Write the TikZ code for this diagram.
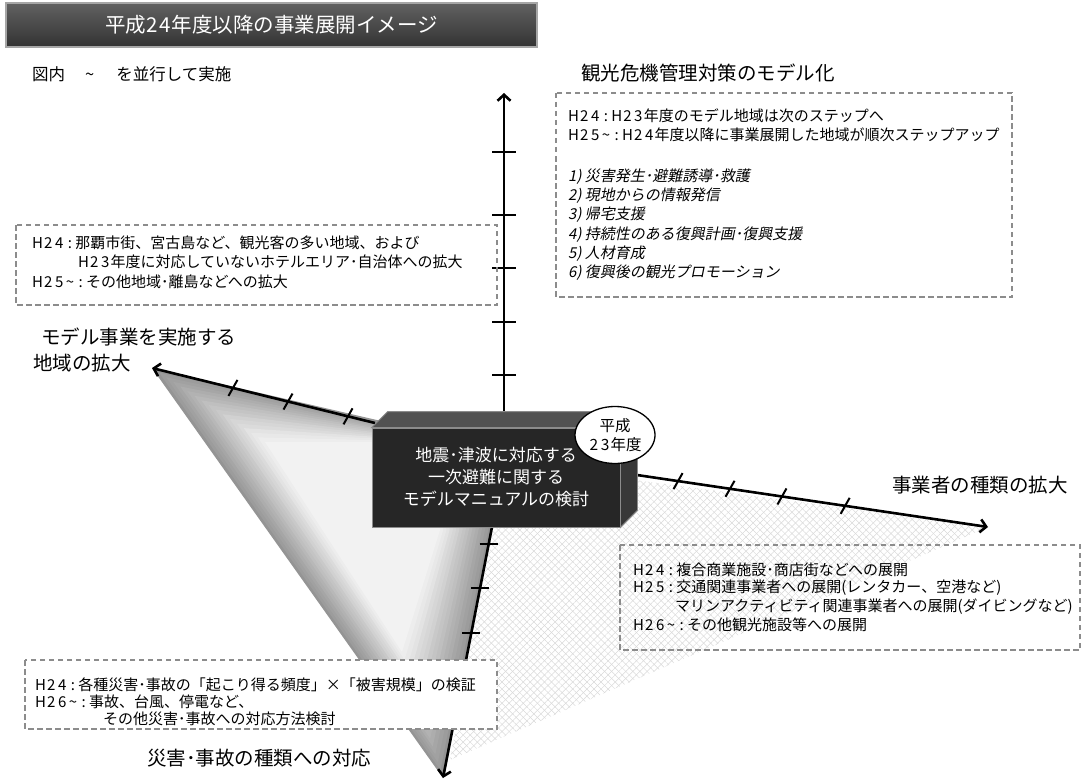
\documentclass[tikz,border=0pt]{standalone}
\usepackage{fontspec}
\setmainfont{Noto Sans CJK JP}
\newfontfamily\jpit[FakeSlant=0.2]{Noto Sans CJK JP}
\usetikzlibrary{calc,arrows.meta,patterns.meta,shapes.geometric}
\newcommand\cells[1]{\cellsi#1\relax}
\def\cellsi#1{\ifx\relax#1\else\makebox[0.72em]{#1}\expandafter\cellsi\fi}
\newcommand\tcells[1]{\tcellsi#1\relax}
\def\tcellsi#1{\ifx\relax#1\else\makebox[0.62em]{#1}\expandafter\tcellsi\fi}
\begin{document}
\begin{tikzpicture}[x=1pt,y=-1pt,
  dbox/.style={draw=black!45, dash pattern=on 5.5pt off 3.5pt, line width=1.3pt},
  txt/.style={anchor=west, inner sep=0pt, font=\fontsize{15}{18}\selectfont},
  itx/.style={anchor=west, inner sep=0pt, font=\fontsize{15}{18}\selectfont\jpit},
  lab/.style={anchor=west, inner sep=0pt, font=\fontsize{19.5}{22}\selectfont},
  axis/.style={line width=2.6pt, -{Straight Barb[length=6pt,width=13pt]}},
  tickm/.style={line width=2pt},
  core/.style={fill=black!85, draw=black!45, line width=0.8pt, minimum width=248pt,
    minimum height=99pt, text=white, align=center, font=\fontsize{17}{22}\selectfont, inner sep=0pt},
  era/.style={ellipse, draw, line width=1.3pt, fill=white, minimum width=80pt, minimum height=57pt,
    inner sep=0pt, align=center, font=\fontsize{15.5}{19}\selectfont},
  titlebar/.style={top color=black!62, bottom color=black!80, draw=black!35, line width=2pt,
    minimum width=531pt, minimum height=44pt, text=white, inner sep=0pt, font=\fontsize{20.5}{22}\selectfont}
]
\useasboundingbox (0,0) rectangle (1092,781);
% gradient region (left)
\coordinate (o1) at (152,368); \coordinate (o2) at (420,430);
\coordinate (o3) at (492,527); \coordinate (o4) at (443,778);
\coordinate (i1) at (265,442); \coordinate (i2) at (420,442);
\coordinate (i3) at (440,530); \coordinate (i4) at (402,652);
\foreach \k in {0,...,16}{
  \pgfmathsetmacro\tt{\k/16}
  \pgfmathtruncatemacro\gg{42-37*\k/16}
  \fill[black!\gg] ($(o1)!\tt!(i1)$) -- ($(o2)!\tt!(i2)$) -- ($(o3)!\tt!(i3)$) -- ($(o4)!\tt!(i4)$) -- cycle;
}
% pattern region (right)
\coordinate (p1) at (560,470); \coordinate (p2) at (988,527);
\coordinate (p3) at (450,760); \coordinate (p4) at (492,527);
\fill[pattern={Lines[angle=45,distance=5pt,line width=0.5pt]}, pattern color=black!15] (p1)--(p2)--(p3)--(p4)--cycle;
\fill[pattern={Lines[angle=-45,distance=5pt,line width=0.5pt]}, pattern color=black!15] (p1)--(p2)--(p3)--(p4)--cycle;
% axes
\coordinate (vT) at (504,93);  \coordinate (vB) at (504,412);
\coordinate (lT) at (152,368); \coordinate (lB) at (375,423);
\coordinate (rT) at (988,527); \coordinate (rB) at (637,475);
\coordinate (bT) at (443,778); \coordinate (bB) at (492,527);
\draw[axis] (vB) -- (vT);
\draw[axis] (lB) -- (lT);
\draw[axis] (rB) -- (rT);
\draw[axis] (bB) -- (bT);
\foreach \f in {0.116,0.282,0.451,0.618,0.815}
  \draw[tickm] ($(vB)!\f!(vT)+(-12,0)$) -- ++(24,0);
\foreach \f in {0.121,0.39,0.637}
  \draw[tickm] ($(lB)!\f!(lT)+(4.5,-8)$) -- ++(-9,16);
\foreach \f in {0.117,0.265,0.413,0.593}
  \draw[tickm] ($(rB)!\f!(rT)+(4.5,-8)$) -- ++(-9,16);
\foreach \f in {0.068,0.243,0.422}
  \draw[tickm] ($(bB)!\f!(bT)+(-9,0)$) -- ++(18,0);
% dashed boxes
\draw[dbox] (556,93) rectangle (1012,297);
\draw[dbox] (16,225) rectangle (497,305);
\draw[dbox] (620,545) rectangle (1080,650);
\draw[dbox, fill=white] (25,660) rectangle (497,729);
% center box
\node[core] (core) at (496,477.5) {地震･津波に対応する\\一次避難に関する\\モデルマニュアルの検討};
\filldraw[fill=black!68, draw=black!45, line width=0.8pt] (core.north west) -- ++(16,-16) -- ($(core.north east)+(17,-16)$) -- (core.north east) -- cycle;
\filldraw[fill=black!78, draw=black!45, line width=0.8pt] (core.north east) -- ++(17,-16) -- ($(core.south east)+(17,-17)$) -- (core.south east) -- cycle;
\node[era] (era) at (615,435) {平成\\\cells{23}年度};
% title
\node[titlebar] (title) at (271.5,25) {平成\tcells{24}年度以降の事業展開イメージ};
\node[anchor=west, inner sep=0pt, font=\fontsize{16.5}{20}\selectfont] (note) at (32,74) {図内\hspace{20pt}\textasciitilde\hspace{22pt}を並行して実施};
% axis labels
\node[lab] (labV) at (581,73) {観光危機管理対策のモデル化};
\node[lab] (labL1) at (41,337) {モデル事業を実施する};
\node[lab] (labL2) at (33,363) {地域の拡大};
\node[lab] (labR) at (892,485) {事業者の種類の拡大};
\node[lab] (labB) at (147,758) {災害･事故の種類への対応};
% top right box text
\node[txt] (tr1) at (568,116) {\cells{H24:H23}年度のモデル地域は次のステップへ};
\node[txt] (tr2) at (568,135) {\cells{H25\textasciitilde:H24}年度以降に事業展開した地域が順次ステップアップ};
\node[itx] (tr3) at (568,177) {1) 災害発生･避難誘導･救護};
\node[itx] (tr4) at (568,196) {2) 現地からの情報発信};
\node[itx] (tr5) at (568,215) {3) 帰宅支援};
\node[itx] (tr6) at (568,235) {4) 持続性のある復興計画･復興支援};
\node[itx] (tr7) at (568,254) {5) 人材育成};
\node[itx] (tr8) at (568,273) {6) 復興後の観光プロモーション};
% left box text
\node[txt] (lf1) at (32,243) {\cells{H24:}那覇市街、宮古島など、観光客の多い地域、および};
\node[txt] (lf2) at (78,262) {\cells{H23}年度に対応していないホテルエリア･自治体への拡大};
\node[txt] (lf3) at (32,282) {\cells{H25\textasciitilde:}その他地域･離島などへの拡大};
% right lower box text
\node[txt] (rl1) at (633,570) {\cells{H24:}複合商業施設･商店街などへの展開};
\node[txt] (rl2) at (633,588) {\cells{H25:}交通関連事業者への展開(レンタカー、空港など)};
\node[txt] (rl3) at (675,607) {マリンアクティビティ関連事業者への展開(ダイビングなど)};
\node[txt] (rl4) at (633,625) {\cells{H26\textasciitilde:}その他観光施設等への展開};
% left lower box text
\node[txt] (ll1) at (35,685) {\cells{H24:}各種災害･事故の「起こり得る頻度」×「被害規模」の検証};
\node[txt] (ll2) at (35,702) {\cells{H26\textasciitilde:}事故、台風、停電など、};
\node[txt] (ll3) at (103,719) {その他災害･事故への対応方法検討};
\end{tikzpicture}
\end{document}
